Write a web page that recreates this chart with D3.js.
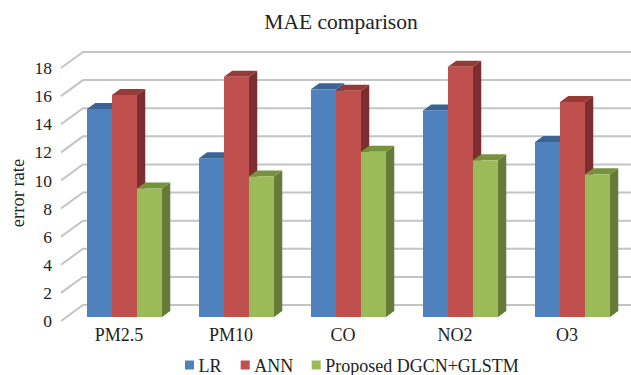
<!DOCTYPE html>
<html>
<head>
<meta charset="utf-8">
<script src="https://cdn.jsdelivr.net/npm/d3@7/dist/d3.min.js"></script>
<style>
  html, body { margin: 0; padding: 0; background: #ffffff; }
  svg { display: block; }
  text { font-family: "Liberation Serif", "Times New Roman", serif; fill: #222; }
</style>
</head>
<body>
<script>
// Categories, series and values
const categories = ["PM2.5", "PM10", "CO", "NO2", "O3"];
const seriesNames = ["LR", "ANN", "Proposed DGCN+GLSTM"];
const lrValues = [14.8, 11.3, 16.2, 14.7, 12.45];
const annValues = [15.8, 17.1, 16.1, 17.8, 15.3];
const proposedValues = [9.15, 10.0, 11.75, 11.15, 10.15];
const yTicks = [0, 2, 4, 6, 8, 10, 12, 14, 16, 18];

const seriesValues = [lrValues, annValues, proposedValues];

// Face colours per series: front, top, side
const palette = [
  { front: "#4f81bd", top: "#3b6495", side: "#36597f" },
  { front: "#c0504d", top: "#963a38", side: "#7b2e2d" },
  { front: "#9bbb59", top: "#77923d", side: "#657b36" }
];

const W = 631, H = 375;
const svg = d3.select("body").append("svg").attr("width", W).attr("height", H);

// Oblique depth of the plot box (front plane -> back wall)
const DX = 22, DY = -16;
const fFront = 0.25, fBack = 0.625;   // bar depth span as fraction of box depth
const wallRight = 631;

const x = d3.scaleBand().domain(categories).range([63, 623])
  .paddingInner(0.33).paddingOuter(0.165);
const xs = d3.scaleBand().domain(seriesNames).range([0, x.bandwidth()]);
const y = d3.scaleLinear().domain([0, 18]).range([321, 68]);
const frontLeft = 61;

// Gridlines: diagonal on the side wall, horizontal on the back wall
const grid = svg.append("g").attr("stroke", "#c4c4c4").attr("stroke-width", 2).attr("fill", "none");
yTicks.forEach(v => {
  const yy = y(v);
  grid.append("path")
    .attr("d", `M${frontLeft},${yy}L${frontLeft + DX},${yy + DY}L${wallRight},${yy + DY}`);
});

// Tick labels
svg.append("g").selectAll("text").data(yTicks).join("text")
  .attr("x", 52).attr("y", d => y(d)).attr("dy", "0.35em")
  .attr("text-anchor", "end").attr("font-size", 17.5)
  .text(d => d);

// Bars (drawn left to right so nearer faces overlap correctly)
const bars = svg.append("g");
categories.forEach((cat, ci) => {
  seriesNames.forEach((s, si) => {
    const v = seriesValues[si][ci];
    const x0 = x(cat) + xs(s);
    const w = xs.bandwidth();
    const y0 = y(0), y1 = y(v);
    const ax = fFront * DX, ay = fFront * DY;
    const bx = fBack * DX, by = fBack * DY;
    const c = palette[si];
    const g = bars.append("g");
    g.append("polygon")
      .attr("points", [[x0 + w + ax, y1 + ay], [x0 + w + bx, y1 + by], [x0 + w + bx, y0 + by], [x0 + w + ax, y0 + ay]].join(" "))
      .attr("fill", c.side);
    g.append("polygon")
      .attr("points", [[x0 + ax, y1 + ay], [x0 + w + ax, y1 + ay], [x0 + w + bx, y1 + by], [x0 + bx, y1 + by]].join(" "))
      .attr("fill", c.top);
    g.append("rect")
      .attr("x", x0 + ax).attr("y", y1 + ay)
      .attr("width", w).attr("height", y0 - y1)
      .attr("fill", c.front);
  });
});

// Category labels
svg.append("g").selectAll("text").data(categories).join("text")
  .attr("x", d => x(d) + x.bandwidth() / 2).attr("y", 341)
  .attr("text-anchor", "middle").attr("font-size", 18)
  .text(d => d);

// Title
svg.append("text").attr("x", 341).attr("y", 29)
  .attr("text-anchor", "middle").attr("font-size", 21.5)
  .text("MAE comparison");

// Y-axis title
svg.append("text")
  .attr("transform", "translate(24,193) rotate(-90)")
  .attr("text-anchor", "middle").attr("font-size", 18.5)
  .text("error rate");

// Legend
const legendX = [185, 240.7, 311.7];
const legend = svg.append("g");
seriesNames.forEach((s, i) => {
  legend.append("rect").attr("x", legendX[i]).attr("y", 360.5)
    .attr("width", 9).attr("height", 9).attr("fill", palette[i].front);
  legend.append("text").attr("x", legendX[i] + 13.5).attr("y", 371.5)
    .attr("font-size", 18).text(s);
});
</script>
</body>
</html>
